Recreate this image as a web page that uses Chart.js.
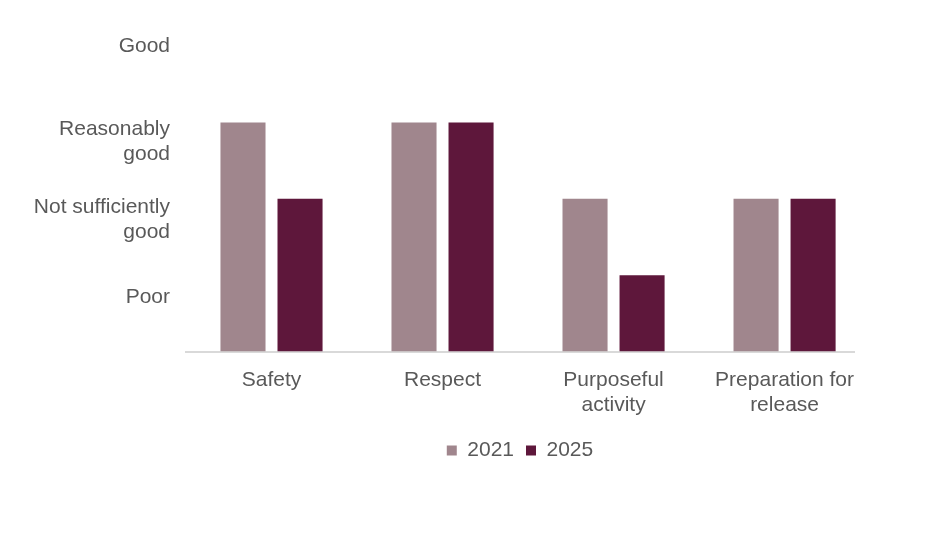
<!DOCTYPE html>
<html lang="en">
<head>
  <meta charset="UTF-8">
  <title>Ratings</title>
  <style>
    html, body { margin: 0; padding: 0; background: #ffffff; }
    #wrap { width: 929px; height: 533px; }
  </style>
</head>
<body>
  <div id="wrap"><canvas id="chart"></canvas></div>
  <script src="https://cdn.jsdelivr.net/npm/chart.js@4.4.1/dist/chart.umd.min.js"></script>
  <script>
    // data
    const categories = [["Safety"], ["Respect"], ["Purposeful", "activity"], ["Preparation for", "release"]]
    const years = ["2021", "2025"]
    const values2021 = [3, 3, 2, 2]
    const values2025 = [2, 3, 1, 2]
    // rating labels and where they sit on the value axis
    const ratingLabels = [["Poor"], ["Not sufficiently", "good"], ["Reasonably", "good"], ["Good"]]
    const ratingTicks = [0.71, 1.73, 2.75, 4]

    const textColor = "#595959"
    const font = { family: "'Liberation Sans', Arial, sans-serif", size: 21 }

    // legend in the reference is centred under the plot area, and sits a bit higher
    const legendShift = {
      id: "legendShift",
      afterLayout(chart) {
        const lg = chart.legend
        const mid = (chart.chartArea.left + chart.chartArea.right) / 2
        const off = mid - (lg.left + lg.right) / 2
        lg.left += off
        lg.right += off
        lg.top -= 6
        lg.bottom -= 6
      }
    }

    const ctx = document.getElementById("chart").getContext("2d")
    new Chart(ctx, {
      type: "bar",
      data: {
        labels: categories,
        datasets: [
          { label: years[0], data: values2021, backgroundColor: "#a0868d" },
          { label: years[1], data: values2025, backgroundColor: "#5e173b" }
        ]
      },
      options: {
        responsive: true,
        maintainAspectRatio: false,
        animation: false,
        layout: { padding: { top: 46, right: 75, bottom: 56, left: 0 } },
        datasets: { bar: { categoryPercentage: 0.667, barPercentage: 0.79 } },
        plugins: {
          legend: {
            position: "bottom",
            labels: {
              color: textColor, font: font,
              boxWidth: 10, boxHeight: 10, padding: 12
            }
          },
          tooltip: { enabled: false }
        },
        scales: {
          x: {
            grid: { display: false, drawTicks: false },
            border: { color: "#d9d9d9", width: 2 },
            ticks: { color: textColor, font: font, padding: 16, maxRotation: 0 },
            // the groups in the reference are spaced a little wider than the axis line
            afterBuildTicks: axis => { axis._valueRange = categories.length * 0.9765 }
          },
          y: {
            min: 0,
            max: 4,
            grid: { display: false, drawTicks: false },
            border: { display: false },
            afterBuildTicks: axis => {
              axis.ticks = ratingTicks.map(v => ({ value: v }))
            },
            afterFit: axis => { axis.width = 186 },
            ticks: {
              color: textColor, font: font, padding: 16,
              callback: (v, i) => ratingLabels[i]
            }
          }
        }
      },
      plugins: [legendShift]
    })
  </script>
</body>
</html>
